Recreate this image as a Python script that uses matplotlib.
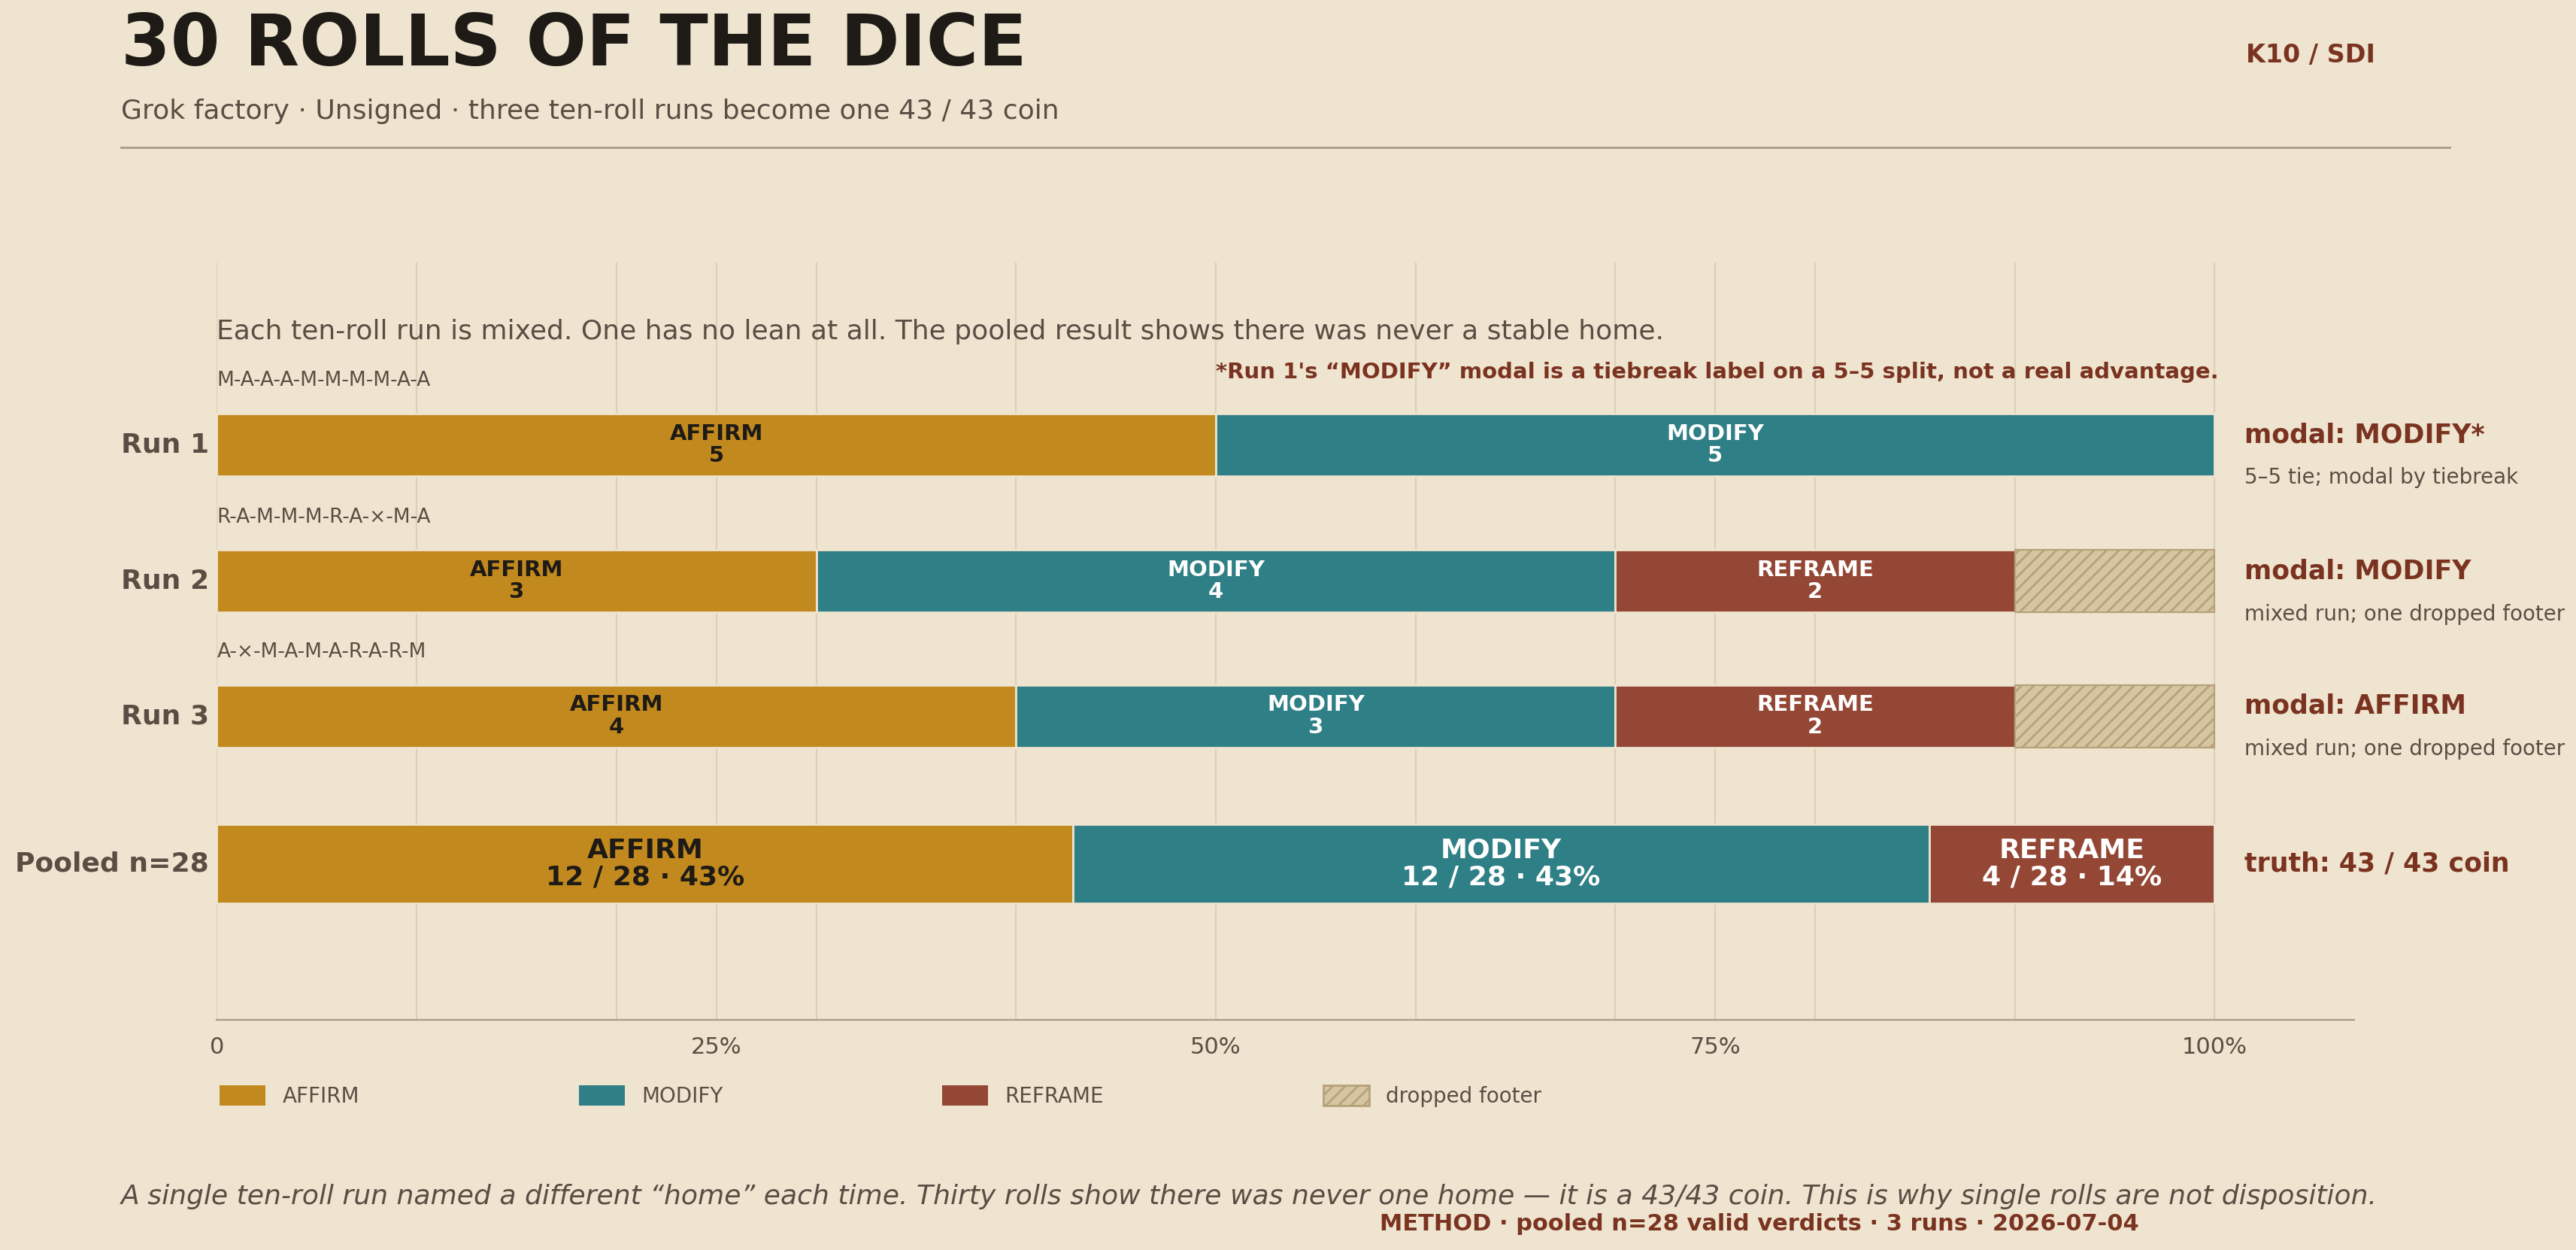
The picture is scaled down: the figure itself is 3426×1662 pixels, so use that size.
import matplotlib
matplotlib.use("Agg")
import matplotlib.pyplot as plt
from matplotlib.patches import Patch

runs = ["Run 1", "Run 2", "Run 3", "Pooled n=28"]
affirm = [5, 3, 4, 12]
modify = [5, 4, 3, 12]
reframe = [0, 2, 2, 4]
dropped = [0, 1, 1, 0]
totals = [10, 10, 10, 28]
sequences = ["M-A-A-A-M-M-M-M-A-A", "R-A-M-M-M-R-A-×-M-A", "A-×-M-A-M-A-R-A-R-M"]
modal = ["modal: MODIFY*", "modal: MODIFY", "modal: AFFIRM", "truth: 43 / 43 coin"]
notes = ["5–5 tie; modal by tiebreak", "mixed run; one dropped footer", "mixed run; one dropped footer", ""]

BG = "#EFE4CF"
C_A, C_M, C_R, C_D = "#C28A1E", "#2E7F86", "#944735", "#D6C5A0"
DARK = "#1E1A16"
GREY = "#5A4E44"
RED = "#7A3320"

plt.rcParams['font.family'] = ['DejaVu Sans']
fig = plt.figure(figsize=(17.13, 8.31), dpi=200, facecolor=BG)
ax = fig.add_axes([0.0842, 0.184, 0.8298, 0.606], facecolor=BG)

ypos = [271, 354, 436, 526]
heights = [38, 38, 38, 48]

for i in range(4):
    y, h, t = ypos[i], heights[i], totals[i]
    left = 0
    segs = [(affirm[i], C_A, "AFFIRM", DARK), (modify[i], C_M, "MODIFY", "white"),
            (reframe[i], C_R, "REFRAME", "white")]
    for v, c, name, tc in segs:
        if v == 0:
            continue
        w = v / t * 100
        ax.barh(y, w, left=left, height=h, color=c, edgecolor=BG, linewidth=1, zorder=3)
        if i < 3:
            lab = f"{name}\n{v}"
            fs = 10.5
        else:
            lab = f"{name}\n{v} / {t} · {round(v / t * 100)}%"
            fs = 13
        ax.text(left + w / 2, y, lab, ha="center", va="center", color=tc,
                fontsize=fs, fontweight="bold", linespacing=1.05, zorder=4)
        left += w
    if dropped[i]:
        w = dropped[i] / t * 100
        ax.barh(y, w, left=left, height=h, color=C_D, edgecolor="#B5A27C",
                hatch="////", linewidth=0.8, zorder=3)
    ax.text(-0.4, y, runs[i], ha="right", va="center", fontsize=13,
            fontweight="bold", color=GREY)
    ax.text(101.5, y - (6 if notes[i] else 0), modal[i], ha="left", va="center",
            fontsize=12.5, fontweight="bold", color=RED)
    if notes[i]:
        ax.text(101.5, y + 20, notes[i], ha="left", va="center", fontsize=10, color=GREY)
    if i < 3:
        ax.text(0, y - 39, sequences[i], ha="left", va="center", fontsize=9.5, color=GREY)

ax.text(0, 202, "Each ten-roll run is mixed. One has no lean at all. The pooled result shows there was never a stable home.",
        ha="left", va="center", fontsize=13, color=GREY)
ax.text(50, 227, "*Run 1's \u201cMODIFY\u201d modal is a tiebreak label on a 5–5 split, not a real advantage.",
        ha="left", va="center", fontsize=10.5, fontweight="bold", color=RED)

ax.set_xlim(0, 107)
ax.set_ylim(621, 160)
ax.set_xticks(range(0, 101, 10), minor=True)
ax.set_xticks([0, 25, 50, 75, 100])
ax.set_xticklabels(["0", "25%", "50%", "75%", "100%"], fontsize=11, color=GREY)
ax.grid(axis="x", which="both", color="#DDD0B8", linewidth=0.8, zorder=0)
ax.tick_params(axis="x", which="both", length=0, pad=8)
ax.set_yticks([])
for s in ["top", "right", "left"]:
    ax.spines[s].set_visible(False)
ax.spines["bottom"].set_color("#A89A88")

handles = [Patch(facecolor=C_A, label="AFFIRM"), Patch(facecolor=C_M, label="MODIFY"),
           Patch(facecolor=C_R, label="REFRAME"),
           Patch(facecolor=C_D, edgecolor="#B5A27C", hatch="////", label="dropped footer")]
leg = fig.legend(handles=handles, loc="center left", bbox_to_anchor=(0.078, 0.123), ncol=4,
                 frameon=False, fontsize=10, handlelength=2.2, handleheight=1.1,
                 columnspacing=10.5, labelcolor=GREY)

fig.text(0.047, 0.963, "30 ROLLS OF THE DICE", fontsize=34, fontweight="bold", color=DARK, va="center")
fig.text(0.047, 0.911, "Grok factory · Unsigned · three ten-roll runs become one 43 / 43 coin",
         fontsize=13, color=GREY, va="center")
fig.text(0.872, 0.956, "K10 / SDI", fontsize=12, fontweight="bold", color=RED, va="center")
fig.add_artist(plt.Line2D([0.047, 0.951], [0.882, 0.882], color="#A89A88", linewidth=1))
fig.text(0.047, 0.043, "A single ten-roll run named a different \u201chome\u201d each time. Thirty rolls show there was never one home — it is a 43/43 coin. This is why single rolls are not disposition.",
         fontsize=13, style="italic", color=GREY, va="center")
fig.text(0.683, 0.021, "METHOD · pooled n=28 valid verdicts · 3 runs · 2026-07-04",
         fontsize=11, fontweight="bold", color=RED, va="center", ha="center")

fig.savefig("out.png", dpi=200, facecolor=BG)
